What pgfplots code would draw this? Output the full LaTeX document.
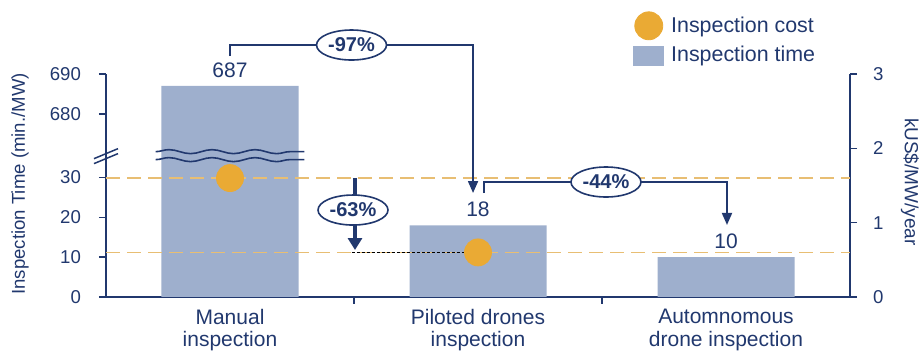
\documentclass[border=0pt]{standalone}
\usepackage{pgfplots}
\pgfplotsset{compat=1.18}
\usepackage{pgfplotstable}
\usepackage{fontspec}
\setmainfont{Liberation Sans}
\usetikzlibrary{arrows.meta,shapes.geometric,decorations.pathmorphing}

\definecolor{navy}{RGB}{33,56,110}
\definecolor{barblue}{RGB}{158,175,205}
\definecolor{costgold}{RGB}{234,170,52}
\definecolor{guide}{RGB}{232,190,115}

% inspection time per method (min./MW)
\pgfplotstableread{
x y lab
0 687 687
1 18 18
2 10 10
}\timedata

% inspection cost per method (kUS$/MW/year)
\pgfplotstableread{
x c
0 1.6
1 0.6
}\costdata

\tikzset{
  pct/.style={ellipse, draw=navy, line width=0.8pt, fill=white, inner sep=0.5pt,
    minimum width=35pt, minimum height=15pt, text=navy,
    font=\fontsize{10}{11}\selectfont\bfseries},
  flow/.style={navy, line width=0.9pt, -{Triangle[width=5pt,length=6pt]}},
}

\begin{document}
\begin{tikzpicture}[font=\fontsize{10.5}{11.5}\selectfont, text=navy]
% left axis: inspection time, broken between 35 and 680
\begin{axis}[
  width=372pt, height=111.5pt, scale only axis,
  xmin=-0.5, xmax=2.5,
  ymin=0, ymax=690,
  y coord trafo/.code={\pgfmathparse{#1>600 ? #1-634 : #1}},
  axis x line*=bottom, axis y line*=left,
  axis line style={navy, line width=0.75pt},
  tick style={navy, line width=0.75pt},
  tick align=outside, major tick length=3.5pt,
  xtick={0.5,1.5}, xticklabels={},
  extra x ticks={0,1,2},
  extra x tick labels={{Manual\\inspection},{Piloted drones\\inspection},{Automnomous\\drone inspection}},
  extra x tick style={major tick length=0pt},
  xticklabel style={align=center, text=navy, font=\fontsize{10.5}{11.3}\selectfont, yshift=-2.5pt},
  ytick={0,10,20,30,680,690},
  yticklabels={0,10,20,30,680,690},
  yticklabel style={xshift=-5.5pt, text=navy, font=\fontsize{9.3}{10}\selectfont},
  every axis y label/.style={at={(axis description cs:-0.1156,0.507)}, rotate=90, anchor=center},
  ylabel={Inspection Time (min./MW)},
  ylabel style={font=\fontsize{9.3}{10}\selectfont, text=navy},
  clip=false,
]
\addplot[ybar, bar width=68.5pt, fill=barblue, draw=none,
  point meta=explicit symbolic, nodes near coords,
  nodes near coords style={font=\fontsize{10.5}{11}\selectfont, text=navy,
    fill=white, inner sep=1pt, yshift=3pt}]
  table[x=x, y=y, meta=lab]{\timedata};
% break marks on the tall bar and on the axis
\draw[navy, line width=0.8pt, decorate, decoration={snake, amplitude=1pt, segment length=21.5pt}]
  (axis cs:-0.3,36.5) -- (axis cs:0.3,36.5);
\draw[navy, line width=0.8pt, decorate, decoration={snake, amplitude=1pt, segment length=21.5pt}]
  (axis cs:-0.3,34.5) -- (axis cs:0.3,34.5);
\draw[navy, line width=0.75pt] ([shift={(-6pt,-2.5pt)}]axis cs:-0.5,36) -- ([shift={(6pt,2.5pt)}]axis cs:-0.5,36);
\draw[navy, line width=0.75pt] ([shift={(-6pt,-2.5pt)}]axis cs:-0.5,34.75) -- ([shift={(6pt,2.5pt)}]axis cs:-0.5,34.75);
\end{axis}

% right axis: inspection cost, with guides, markers and change annotations
\begin{axis}[
  width=372pt, height=111.5pt, scale only axis,
  xmin=-0.5, xmax=2.5, ymin=0, ymax=3,
  axis x line=none, axis y line*=right,
  axis line style={navy, line width=0.75pt},
  tick style={navy, line width=0.75pt},
  tick align=outside, major tick length=3.5pt,
  ytick={0,1,2,3},
  yticklabel style={xshift=4.5pt, text=navy, font=\fontsize{9.3}{10}\selectfont},
  /pgf/number format/assume math mode=true,
  every axis y label/.style={at={(axis description cs:1.0806,0.516)}, rotate=-90, anchor=center},
  ylabel={kUS\$/MW/year},
  ylabel style={font=\fontsize{9.5}{10}\selectfont, text=navy},
  clip=false,
  legend style={at={(axis description cs:0.7083,1.2825)}, anchor=north west,
    draw=none, fill=none, inner sep=0pt, row sep=2pt,
    font=\fontsize{10.7}{11.5}\selectfont, text=navy,
    nodes={inner sep=1pt, anchor=west},
    /tikz/every odd column/.style={column sep=2.5pt}},
  legend cell align=left,
]
\addplot[guide, line width=0.75pt, dash pattern=on 7pt off 3.5pt, forget plot]
  coordinates {(-0.5,1.6) (2.5,1.6)};
\addplot[guide, line width=0.75pt, dash pattern=on 7pt off 3.5pt, forget plot]
  coordinates {(-0.5,0.6) (2.5,0.6)};
\addplot[black, line width=0.4pt, dash pattern=on 1.5pt off 1pt, forget plot]
  coordinates {(0.49,0.605) (1.0,0.605)};
\addplot[only marks, mark=*, mark size=6.75pt, costgold,
  legend image code/.code={\fill[costgold] (7.5pt,0pt) circle (7pt);}]
  table[x=x, y=c]{\costdata};
\addlegendentry{Inspection cost}
\addlegendimage{legend image code/.code={\fill[barblue] (0pt,-4.75pt) rectangle (15pt,4.75pt);}}
\addlegendentry{Inspection time}

% -97%: manual -> piloted drones
\draw[flow] (axis cs:0,3.242) |- (axis cs:0.98,3.39) -- (axis cs:0.98,1.399);
\node[pct] at (axis cs:0.49,3.39) {-97\%};
% -44%: piloted -> autonomous
\draw[flow] (axis cs:1.024,1.399) |- (axis cs:2.004,1.547) -- (axis cs:2.004,0.969);
\node[pct] at (axis cs:1.516,1.547) {-44\%};
% -63%: cost reduction
\draw[navy, line width=1.8pt, -{Triangle[width=7pt,length=6pt]}]
  (axis cs:0.504,1.601) -- (axis cs:0.504,0.632);
\node[pct] at (axis cs:0.496,1.17) {-63\%};
\end{axis}

\pgfresetboundingbox
\path[use as bounding box] (-53pt,-27.5pt) rectangle (406.5pt,148.5pt);
\end{tikzpicture}
\end{document}
